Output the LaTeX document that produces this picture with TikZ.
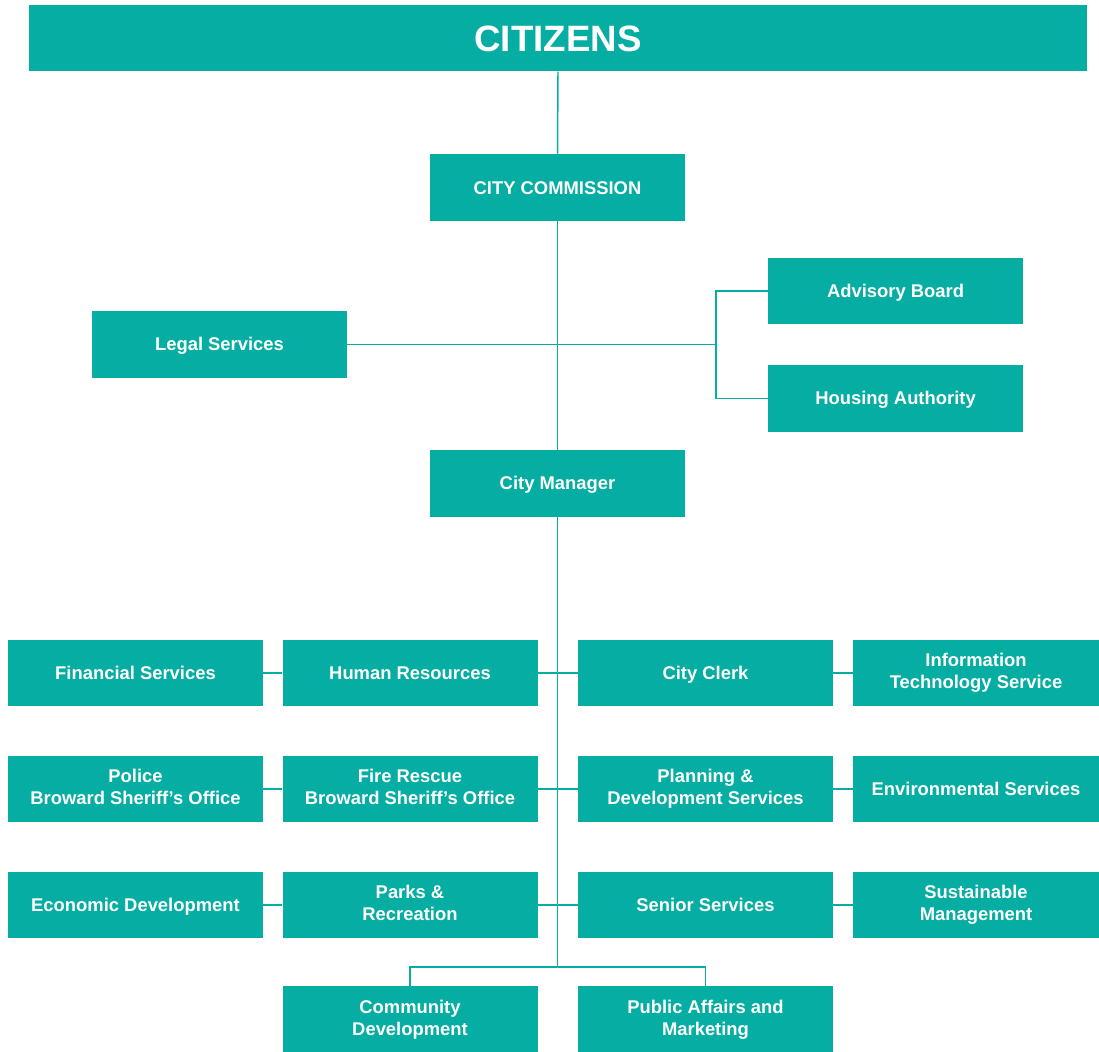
\documentclass[tikz,border=0pt]{standalone}
\usepackage{fontspec}
\setmainfont{Liberation Sans}
\definecolor{orgteal}{RGB}{5,173,162}
\newcommand\unitstrut{\vrule width 0pt height .9em depth .184em}
\tikzset{
  unit/.style={fill=orgteal, text=white, font=\bfseries\fontsize{13.8}{16.5}\selectfont,
    align=center, inner sep=0pt, minimum width=191.25pt, minimum height=50pt,
    execute at begin node=\unitstrut, execute at end node=\unitstrut},
  narrowunit/.style={unit, minimum width=184.5pt},
  link/.style={draw=orgteal, line width=1.1pt}
}
\begin{document}
\begin{tikzpicture}[x=0.75pt, y=-0.75pt]
  \useasboundingbox (0,0) rectangle (1099,1052);
  % top of the chart
  \node [unit, minimum width=793.5pt, font=\bfseries\fontsize{27.5}{30}\selectfont] (citizens) at (558,38) {CITIZENS};
  \node [unit] (commission) at (557.5,187.5) {CITY COMMISSION};
  \node [unit] (legal) at (219.5,344.5) {Legal Services};
  \node [unit] (advisory) at (895.5,291) {Advisory Board};
  \node [unit] (housing) at (895.5,398.5) {Housing Authority};
  \node [unit] (manager) at (557.5,483.5) {City Manager};
  % departments
  \node [unit] (finance) at (135.5,673) {Financial Services};
  \node [unit] (hr) at (410,673) {Human Resources};
  \node [unit] (clerk) at (705.5,673) {City Clerk};
  \node [narrowunit] (it) at (976,673) {Information\\Technology Service};
  \node [unit] (police) at (135.5,789) {Police\\Broward Sheriff’s Office};
  \node [unit] (fire) at (410,789) {Fire Rescue\\Broward Sheriff’s Office};
  \node [unit] (planning) at (705.5,789) {Planning \&\\Development Services};
  \node [narrowunit] (environment) at (976,789) {Environmental Services};
  \node [unit] (economic) at (135.5,905) {Economic Development};
  \node [unit] (parks) at (410,905) {Parks \&\\Recreation};
  \node [unit] (senior) at (705.5,905) {Senior Services};
  \node [narrowunit] (sustain) at (976,905) {Sustainable\\Management};
  \node [unit] (community) at (410,1019.5) {Community\\Development};
  \node [unit] (public) at (705.5,1019.5) {Public Affairs and\\Marketing};
  % connectors
  \coordinate (boards) at (716,344.5);
  \coordinate (bus) at (557.5,967);
  \draw [link] (citizens.south) -- (commission.north);
  \draw [link] (commission.south) -- (manager.north);
  \draw [link] (manager.south) -- (bus);
  \draw [link] (legal.east) -- (boards);
  \draw [link] (advisory.west) -| (boards) |- (housing.west);
  \draw [link] (finance) -- (hr);
  \draw [link] (hr) -- (clerk);
  \draw [link] (clerk) -- (it);
  \draw [link] (police) -- (fire);
  \draw [link] (fire) -- (planning);
  \draw [link] (planning) -- (environment);
  \draw [link] (economic) -- (parks);
  \draw [link] (parks) -- (senior);
  \draw [link] (senior) -- (sustain);
  \draw [link] (community.north) |- (bus) -| (public.north);
\end{tikzpicture}
\end{document}
